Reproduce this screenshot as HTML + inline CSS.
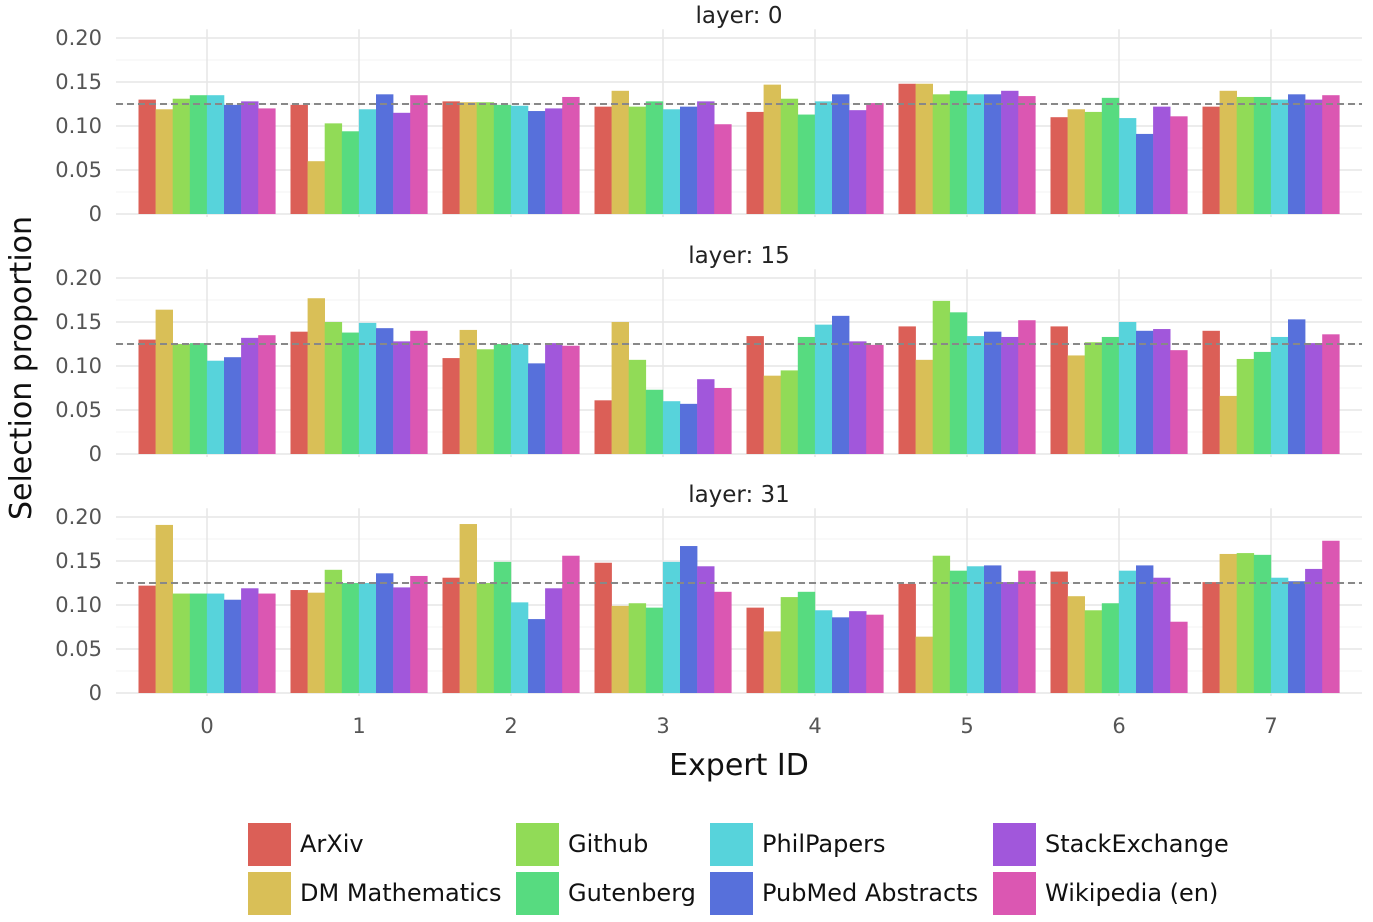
<!DOCTYPE html>
<html><head><meta charset="utf-8"><style>
html,body{margin:0;padding:0;background:#fff;}
svg{display:block;font-family:"DejaVu Sans","Liberation Sans",sans-serif;}
</style></head><body>
<svg id="chart" width="1373" height="922" viewBox="0 0 1373 922" xmlns="http://www.w3.org/2000/svg"></svg>
<script>
const experts = ["0","1","2","3","4","5","6","7"];
const datasets = ["ArXiv","DM Mathematics","Github","Gutenberg","PhilPapers","PubMed Abstracts","StackExchange","Wikipedia (en)"];
const colors = ["#DB5F57","#D9BF57","#91DB57","#57DB80","#57D3DB","#5770DB","#A157DB","#DB57B2"];
const layers = ["0","15","31"];
const yTicks = [0,0.05,0.10,0.15,0.20];
const yTickLabels = ["0","0.05","0.10","0.15","0.20"];
const refLine = 0.125;
const layer0 = [
 [0.130,0.119,0.131,0.135,0.135,0.124,0.128,0.120],
 [0.124,0.060,0.103,0.094,0.119,0.136,0.115,0.135],
 [0.128,0.127,0.127,0.124,0.123,0.117,0.120,0.133],
 [0.122,0.140,0.122,0.128,0.119,0.122,0.128,0.102],
 [0.116,0.147,0.131,0.113,0.128,0.136,0.118,0.126],
 [0.148,0.148,0.136,0.140,0.136,0.136,0.140,0.134],
 [0.110,0.119,0.116,0.132,0.109,0.091,0.122,0.111],
 [0.122,0.140,0.133,0.133,0.130,0.136,0.130,0.135]];
const layer15 = [
 [0.130,0.164,0.125,0.126,0.106,0.110,0.132,0.135],
 [0.139,0.177,0.150,0.138,0.149,0.143,0.128,0.140],
 [0.109,0.141,0.119,0.125,0.125,0.103,0.126,0.123],
 [0.061,0.150,0.107,0.073,0.060,0.057,0.085,0.075],
 [0.134,0.089,0.095,0.133,0.147,0.157,0.128,0.124],
 [0.145,0.107,0.174,0.161,0.134,0.139,0.133,0.152],
 [0.145,0.112,0.127,0.133,0.150,0.140,0.142,0.118],
 [0.140,0.066,0.108,0.116,0.133,0.153,0.126,0.136]];
const layer31 = [
 [0.122,0.191,0.113,0.113,0.113,0.106,0.119,0.113],
 [0.117,0.114,0.140,0.125,0.125,0.136,0.120,0.133],
 [0.131,0.192,0.125,0.149,0.103,0.084,0.119,0.156],
 [0.148,0.099,0.102,0.097,0.149,0.167,0.144,0.115],
 [0.097,0.070,0.109,0.115,0.094,0.086,0.093,0.089],
 [0.124,0.064,0.156,0.139,0.144,0.145,0.126,0.139],
 [0.138,0.110,0.094,0.102,0.139,0.145,0.131,0.081],
 [0.126,0.158,0.159,0.157,0.131,0.127,0.141,0.173]];
const layerData = [layer0, layer15, layer31];

const svg = document.getElementById('chart');
const NS = "http://www.w3.org/2000/svg";
function mk(tag, attrs, parent){const el=document.createElementNS(NS,tag);for(const k in attrs)el.setAttribute(k,attrs[k]);(parent||svg).appendChild(el);return el;}
const plotL=116, plotR=1362;
const zeros=[214,454,693];
const pxPerUnit=880;
function xCenter(i){return 207+152*i;}
const barW=17.1;

layers.forEach((L,p)=>{
  const g=mk('g',{});
  
  
  const y0=zeros[p];
  const y=v=>y0-v*pxPerUnit;
  for(let v=0.025;v<0.22;v+=0.05){const l=mk('line',{x1:plotL,x2:plotR,y1:y(v),y2:y(v),stroke:'#f3f3f3','stroke-width':1},g);}
  yTicks.forEach((v,k)=>{
    const l=mk('line',{x1:plotL,x2:plotR,y1:y(v),y2:y(v),stroke:'#e6e6e6','stroke-width':1.5},g);
    
    const t=mk('text',{x:102,y:y(v)+7,'text-anchor':'end','font-size':21,fill:'#555'},g);
    t.textContent=yTickLabels[k];
    
  });
  experts.forEach((ex,i)=>{const l=mk('line',{x1:xCenter(i),x2:xCenter(i),y1:y(0.21),y2:y0+3,stroke:'#e6e6e6','stroke-width':1.5},g);});
  const tt=mk('text',{x:739,y:y(0.2)-15,'text-anchor':'middle','font-size':23,fill:'#222'},g);
  tt.textContent='layer: '+L;
  
  layerData[p].forEach((row,i)=>{
    row.forEach((v,j)=>{
      const x=xCenter(i)-68.5+j*barW;
      const r=mk('rect',{x:x,y:y(v),width:barW+0.3,height:v*pxPerUnit,fill:colors[j]},g);
      
      
    });
  });
  const d=mk('line',{x1:plotL,x2:plotR,y1:y(refLine),y2:y(refLine),stroke:'#888','stroke-width':2,'stroke-dasharray':'7,4'},g);
  
});
experts.forEach((ex,i)=>{const t=mk('text',{x:xCenter(i),y:733,'text-anchor':'middle','font-size':21,fill:'#555'});t.textContent=ex;});
const xt=mk('text',{x:739,y:775,'text-anchor':'middle','font-size':30,fill:'#111'});xt.textContent='Expert ID';

const yt=mk('text',{x:0,y:0,'text-anchor':'middle','font-size':30,fill:'#111',transform:'translate(31,368) rotate(-90)'});yt.textContent='Selection proportion';

const legX=[248,516,710,993], legY=[823,872];
datasets.forEach((n,j)=>{
  const col=Math.floor(j/2), row=j%2;
  const g=mk('g',{});
  
  mk('rect',{x:legX[col],y:legY[row],width:43,height:43,fill:colors[j]},g);
  const t=mk('text',{x:legX[col]+52,y:legY[row]+29,'font-size':24,fill:'#111'},g);t.textContent=n;
});
</script>
</body></html>
